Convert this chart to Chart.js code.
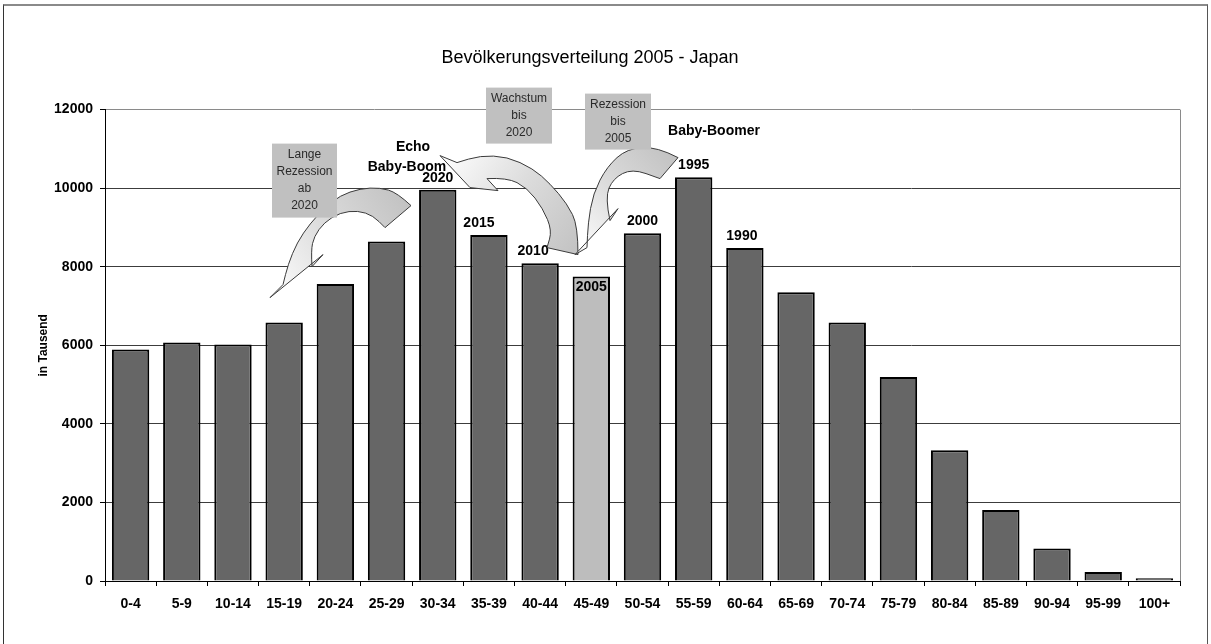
<!DOCTYPE html>
<html>
<head>
<meta charset="utf-8">
<title>Bevölkerungsverteilung 2005 - Japan</title>
<script src="https://cdn.jsdelivr.net/npm/chart.js@4.4.1/dist/chart.umd.min.js"></script>
<style>
  html, body { margin: 0; padding: 0; background: #fff; }
  #wrap { position: relative; width: 1211px; height: 644px; overflow: hidden; }
  #frame {
    position: absolute; left: 3px; top: 4px; width: 1203px; height: 700px;
    border-top: 2px solid #8a8a8a; border-left: 1px solid #333; border-right: 1px solid #555;
    pointer-events: none;
  }
  canvas { position: absolute; left: 0; top: 0; }
</style>
</head>
<body>
<div id="wrap">
  <canvas id="popChart" width="1211" height="644"></canvas>
  <div id="frame"></div>
</div>
<script>
// data (thousands)
const ageGroups = ["0-4", "5-9", "10-14", "15-19", "20-24", "25-29", "30-34", "35-39", "40-44", "45-49",
  "50-54", "55-59", "60-64", "65-69", "70-74", "75-79", "80-84", "85-89", "90-94", "95-99", "100+"];
const population = [5890, 6070, 6020, 6580, 7560, 8640, 9960, 8810, 8090, 7750,
  8850, 10280, 8480, 7350, 6580, 5190, 3330, 1810, 830, 230, 70];
// which year each cohort is at the 45-49 peak
const censusYears = ["", "", "", "", "", "", "2020", "2015", "2010", "2005",
  "2000", "1995", "1990", "", "", "", "", "", "", "", ""];
const highlightGroup = "45-49";
const yMax = 12000;
const yStep = 2000;

const fontFamily = '"Liberation Sans", Arial, sans-serif';
Chart.defaults.font.family = fontFamily;
Chart.defaults.color = "#000";

const barColors = ageGroups.map((g) => (g === highlightGroup ? "#bdbdbd" : "#666666"));

// small nudges of some year labels, as in the original
const labelShift = { "2015": -10, "2010": -7, "1990": -3 };

// callouts, arrows (page pixels for the reference layout)
const boxes = [
  { x: 272, y: 143, w: 65, h: 74, lines: ["Lange", "Rezession", "ab", "2020"] },
  { x: 486, y: 87, w: 66, h: 56, lines: ["Wachstum", "bis", "2020"] },
  { x: 585, y: 93, w: 66, h: 56, lines: ["Rezession", "bis", "2005"] },
];
const notes = [
  { text: "Echo", x: 413, y: 147 },
  { text: "Baby-Boom", x: 407, y: 167 },
  { text: "Baby-Boomer", x: 714, y: 131 },
];
const arrows = [
  {
    outer: [[411, 205], [397, 192], [380, 187], [360, 188], [340, 195], [325, 207], [310, 223], [297, 242], [288, 264], [283, 284]],
    head: [[270, 297], [323, 254]],
    inner: [[312, 266], [311, 250], [314, 236], [324, 222], [340, 212], [358, 210], [373, 215], [385, 227]],
  },
  {
    outer: [[578, 254], [578, 225], [567, 203], [550, 183], [533, 168], [507, 156], [480, 155], [457, 162]],
    head: [[440, 155], [470, 187], [498, 190]],
    inner: [[487, 178], [507, 177], [527, 187], [543, 208], [552, 230], [547, 247]],
  },
  {
    outer: [[678, 157], [657, 146], [627, 148], [607, 166], [593, 193], [588, 223], [587, 247]],
    head: [[575, 254], [618, 208]],
    inner: [[610, 220], [605, 197], [613, 178], [632, 168], [660, 178]],
  },
];

function smoothThrough(ctx, pts) {
  ctx.lineTo(pts[0][0], pts[0][1]);
  for (let i = 1; i < pts.length - 1; i++) {
    const mx = (pts[i][0] + pts[i + 1][0]) / 2;
    const my = (pts[i][1] + pts[i + 1][1]) / 2;
    ctx.quadraticCurveTo(pts[i][0], pts[i][1], mx, my);
  }
  const last = pts[pts.length - 1];
  ctx.lineTo(last[0], last[1]);
}

function drawArrow(ctx, a) {
  const tail = a.outer[0];
  const tip = a.head[0];
  const grad = ctx.createLinearGradient(tail[0], tail[1], tip[0], tip[1]);
  grad.addColorStop(0, "#c2c2c2");
  grad.addColorStop(0.5, "#dcdcdc");
  grad.addColorStop(1, "#ffffff");
  ctx.beginPath();
  ctx.moveTo(tail[0], tail[1]);
  smoothThrough(ctx, a.outer);
  a.head.forEach((p) => ctx.lineTo(p[0], p[1]));
  smoothThrough(ctx, a.inner);
  ctx.closePath();
  ctx.fillStyle = grad;
  ctx.fill();
  ctx.lineWidth = 1;
  ctx.strokeStyle = "#3a3a3a";
  ctx.stroke();
}

// gray right edge of the plot area
const plotFrame = {
  id: "plotFrame",
  beforeDatasetsDraw(chart) {
    const { ctx, chartArea } = chart;
    ctx.save();
    ctx.strokeStyle = "#8a8a8a";
    ctx.lineWidth = 1;
    ctx.beginPath();
    ctx.moveTo(chartArea.right + 0.5, chartArea.top);
    ctx.lineTo(chartArea.right + 0.5, chartArea.bottom);
    ctx.stroke();
    ctx.restore();
  },
};

const notesPlugin = {
  id: "notes",
  afterDatasetsDraw(chart) {
    const { ctx, chartArea } = chart;
    const meta = chart.getDatasetMeta(0);
    ctx.save();
    ctx.font = "bold 14px " + fontFamily;
    ctx.fillStyle = "#000";
    ctx.textAlign = "center";
    ctx.textBaseline = "middle";
    censusYears.forEach((yr, i) => {
      if (!yr) return;
      const bar = meta.data[i];
      const inside = ageGroups[i] === highlightGroup;
      const dx = labelShift[yr] || 0;
      ctx.fillText(yr, bar.x + dx, inside ? bar.y + 11 : bar.y - 12);
    });

    ctx.translate(chartArea.left - 105, chartArea.top - 109);
    arrows.forEach((a) => drawArrow(ctx, a));

    boxes.forEach((b) => {
      ctx.fillStyle = "#c0c0c0";
      ctx.fillRect(b.x, b.y, b.w, b.h);
      ctx.fillStyle = "#2a2a2a";
      ctx.font = "12px " + fontFamily;
      const lh = 17;
      const y0 = b.y + b.h / 2 - ((b.lines.length - 1) * lh) / 2;
      b.lines.forEach((t, k) => ctx.fillText(t, b.x + b.w / 2, y0 + k * lh));
    });

    ctx.fillStyle = "#000";
    ctx.font = "bold 14px " + fontFamily;
    notes.forEach((n) => ctx.fillText(n.text, n.x, n.y));
    ctx.restore();
  },
};

new Chart(document.getElementById("popChart"), {
  type: "bar",
  data: {
    labels: ageGroups,
    datasets: [
      {
        data: population,
        backgroundColor: barColors,
        borderColor: "#000",
        borderWidth: 2,
        categoryPercentage: 1.0,
        barPercentage: 0.73,
      },
    ],
  },
  options: {
    responsive: false,
    animation: false,
    devicePixelRatio: 1,
    layout: { padding: { left: 0, right: 31, top: 0, bottom: 0 } },
    plugins: {
      legend: { display: false },
      tooltip: { enabled: false },
      title: {
        display: true,
        text: "Bevölkerungsverteilung 2005 - Japan",
        color: "#000",
        font: { size: 18, weight: "normal" },
        padding: { top: 47, bottom: 41 },
      },
    },
    scales: {
      x: {
        grid: { offset: true, drawOnChartArea: false, drawTicks: true, tickLength: 5, color: "#000" },
        border: { color: "#000", width: 1 },
        ticks: { color: "#000", font: { size: 14, weight: "bold" }, padding: 10, maxRotation: 0, autoSkip: false },
        afterFit(scale) {
          scale.height = 63;
        },
      },
      y: {
        min: 0,
        max: yMax,
        ticks: {
          stepSize: yStep,
          color: "#000",
          padding: 7,
          font: { size: 14, weight: "bold" },
          callback: (v) => String(v),
        },
        grid: {
          color: (c) => (c.tick && c.tick.value === yMax ? "#8a8a8a" : "#3c3c3c"),
          lineWidth: 1,
          tickLength: 5,
          tickColor: "#000",
        },
        border: { color: "#000", width: 1 },
        title: {
          display: true,
          text: "in Tausend",
          color: "#000",
          font: { size: 12, weight: "bold" },
          padding: { top: 36, bottom: 0 },
        },
        afterFit(scale) {
          scale.width = 105;
        },
      },
    },
  },
  plugins: [plotFrame, notesPlugin],
});
</script>
</body>
</html>
